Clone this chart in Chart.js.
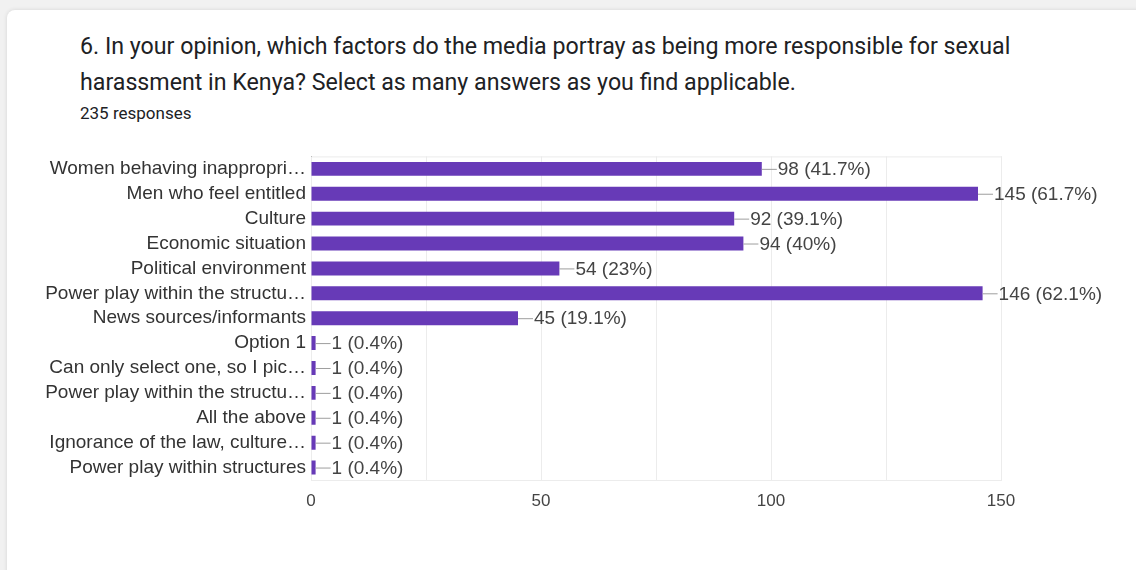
<!DOCTYPE html>
<html>
<head>
<meta charset="utf-8">
<script src="https://cdn.jsdelivr.net/npm/chart.js@4"></script>
<style>
  html, body { margin: 0; padding: 0; }
  body { width: 1136px; height: 570px; background: #f1f1f1; overflow: hidden; position: relative; }
  .card {
    position: absolute; left: 7px; top: 10px; width: 1140px; height: 580px;
    background: #fff; border-radius: 8px;
    box-shadow: 0 0 4px rgba(0,0,0,0.12);
  }
  .title {
    position: absolute; left: 80px; top: 28px; width: 1040px;
    font-family: Roboto, sans-serif; font-size: 23.2px; line-height: 36px; color: #202124;
  }
  .count {
    position: absolute; left: 80px; top: 103px;
    font-family: Roboto, sans-serif; font-size: 17px; color: #202124;
  }
  .wrap { position: absolute; left: 0; top: 140px; width: 1136px; height: 380px; }
</style>
</head>
<body>
<div class="card"></div>
<div class="title">6. In your opinion, which factors do the media portray as being more responsible for sexual<br>harassment in Kenya? Select as many answers as you find applicable.</div>
<div class="count">235 responses</div>
<div class="wrap"><canvas id="myChart"></canvas></div>
<script>
var totalResponses = 235;
var answers = [
    "Women behaving inappropri\u2026",
    "Men who feel entitled",
    "Culture",
    "Economic situation",
    "Political environment",
    "Power play within the structu\u2026",
    "News sources/informants",
    "Option 1",
    "Can only select one, so I pic\u2026",
    "Power play within the structu\u2026",
    "All the above",
    "Ignorance of the law, culture\u2026",
    "Power play within structures"
];
var counts = [98, 145, 92, 94, 54, 146, 45, 1, 1, 1, 1, 1, 1];
var xTicks = [0, 50, 100, 150];

var fontFamily = '"Liberation Sans", Arial, sans-serif';
var labelFont = '19px ' + fontFamily;

function pct(v) {
    var p = (v / totalResponses * 100).toFixed(1);
    return p.replace(/\.0$/, '');
}

// value labels with a short leader line after each bar
var valueLabels = {
    id: 'valueLabels',
    afterDatasetsDraw: function(chart) {
        var ctx = chart.ctx;
        var meta = chart.getDatasetMeta(0);
        ctx.save();
        ctx.font = labelFont;
        ctx.textBaseline = 'middle';
        meta.data.forEach(function(bar, i) {
            var x = bar.x, y = bar.y;
            ctx.strokeStyle = '#9e9e9e';
            ctx.lineWidth = 1;
            ctx.beginPath();
            ctx.moveTo(x, y + 0.5);
            ctx.lineTo(x + 15, y + 0.5);
            ctx.stroke();
            ctx.fillStyle = '#444';
            ctx.fillText(counts[i] + ' (' + pct(counts[i]) + '%)', x + 16, y + 1);
        });
        ctx.restore();
    }
};

// light frame round the plot area
var plotFrame = {
    id: 'plotFrame',
    beforeDatasetsDraw: function(chart) {
        var a = chart.chartArea, ctx = chart.ctx;
        ctx.save();
        ctx.strokeStyle = '#ececec';
        ctx.lineWidth = 1;
        ctx.strokeRect(a.left + 0.5, a.top + 0.5, a.right - a.left, a.bottom - a.top);
        ctx.restore();
    }
};

var ctx = document.getElementById('myChart').getContext('2d');
var chart = new Chart(ctx, {
    type: 'bar',
    data: {
        labels: answers,
        datasets: [{
            data: counts,
            backgroundColor: '#673ab7',
            borderWidth: 0,
            barPercentage: 0.56,
            categoryPercentage: 1
        }]
    },
    options: {
        indexAxis: 'y',
        responsive: true,
        maintainAspectRatio: false,
        animation: false,
        layout: { padding: { top: 15, right: 135, left: 0, bottom: 0 } },
        plugins: { legend: { display: false }, tooltip: { enabled: false } },
        scales: {
            x: {
                min: 0,
                max: 150,
                afterFit: function(scale) { scale.height = 40; },
                ticks: {
                    stepSize: 25,
                    padding: 11,
                    color: '#444',
                    font: { family: fontFamily, size: 17 },
                    callback: function(v) { return xTicks.indexOf(v) >= 0 ? v : ''; }
                },
                grid: { color: '#ececec', drawTicks: false },
                border: { display: false }
            },
            y: {
                afterFit: function(scale) { scale.width = 311; },
                ticks: {
                    padding: 5,
                    color: '#333',
                    autoSkip: false,
                    font: { family: fontFamily, size: 19 }
                },
                grid: { display: false, drawTicks: false },
                border: { display: true, color: '#777', width: 1 }
            }
        }
    },
    plugins: [plotFrame, valueLabels]
});
</script>
</body>
</html>
